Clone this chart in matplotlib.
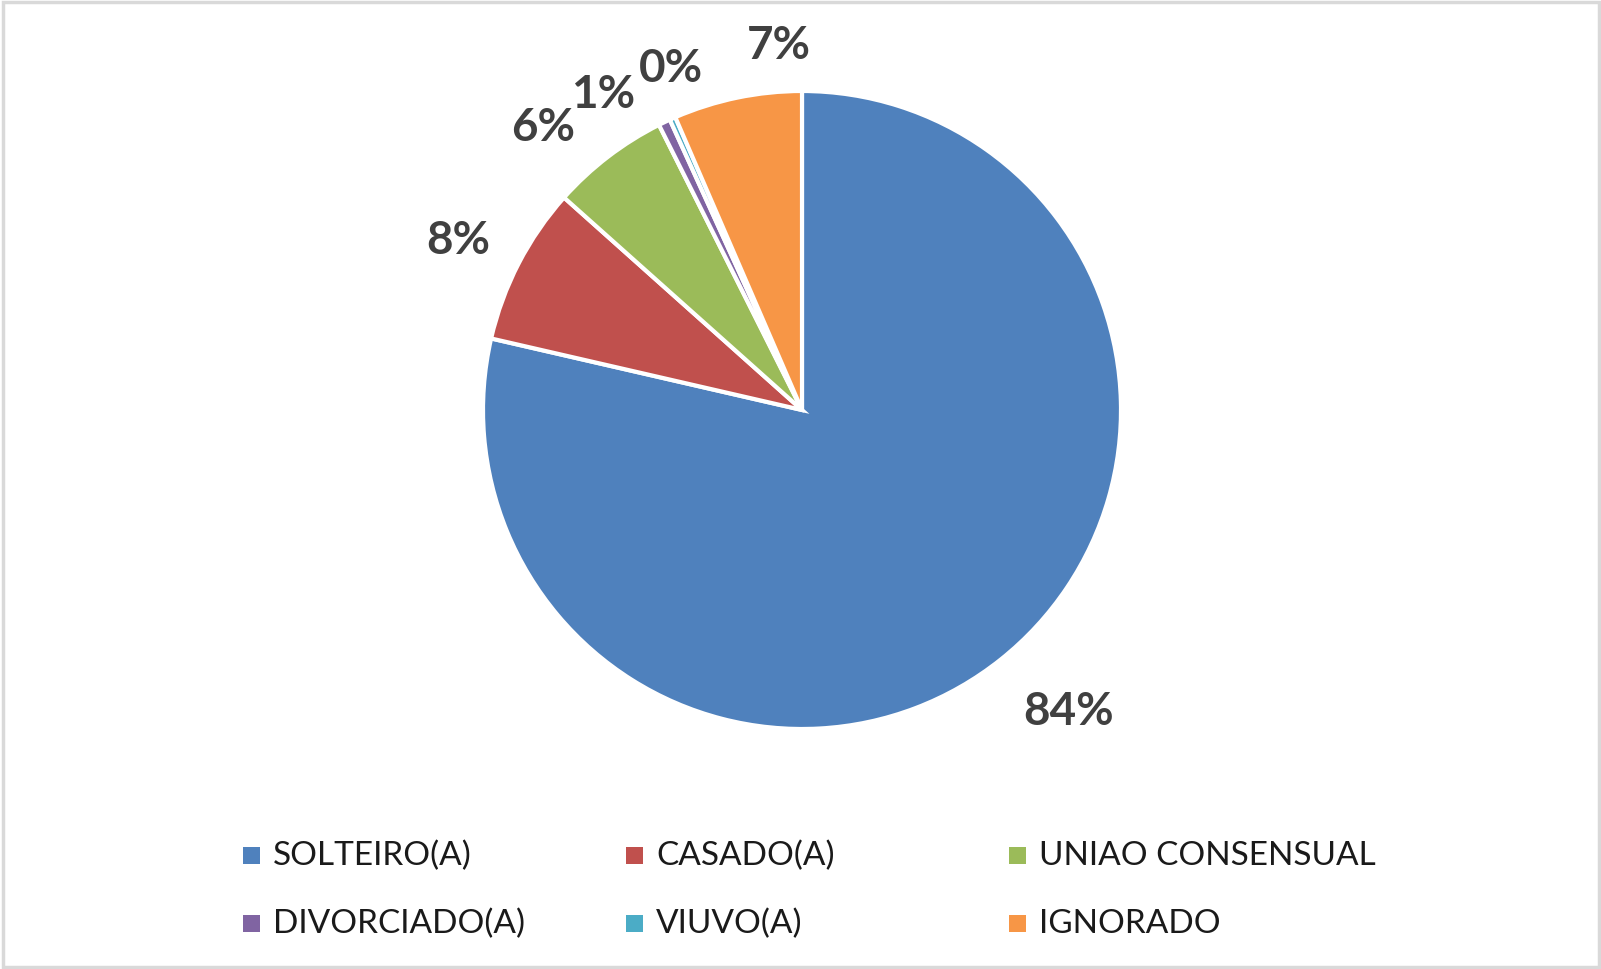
import numpy as np
import matplotlib
matplotlib.use('Agg')
import matplotlib.pyplot as plt
from matplotlib.patches import Rectangle

# estado civil - pie values (slice angles)
categories = ['SOLTEIRO(A)', 'CASADO(A)', 'UNIAO CONSENSUAL',
              'DIVORCIADO(A)', 'VIUVO(A)', 'IGNORADO']
values = [78.6, 8.0, 6.0, 0.6, 0.3, 6.5]
pct_labels = ['84%', '8%', '6%', '1%', '0%', '7%']
colors = ['#4f81bd', '#c0504d', '#9bbb59', '#8064a2', '#4bacc6', '#f79646']

W, H = 1601, 970
fig = plt.figure(figsize=(W / 100, H / 100), dpi=100)
ax = fig.add_axes([0, 0, 1, 1])

cx, cy, r = 802, H - 411, 319
wedges, _ = ax.pie(values, colors=colors, startangle=90, counterclock=False,
                   center=(cx, cy), radius=r, frame=True,
                   wedgeprops=dict(edgecolor='white', linewidth=3))
ax.set_xlim(0, W)
ax.set_ylim(0, H)
ax.set_aspect('equal')
ax.axis('off')

# label nudges (degrees, distance) like excel's best fit
nudge = [(3, 402), (1, 384), (5, 383), (6.6, 373), (-3, 366), (-8.1, 366)]
for w, txt, (da, dist) in zip(wedges, pct_labels, nudge):
    mid = np.deg2rad((w.theta1 + w.theta2) / 2 + da)
    ax.text(cx + dist * np.cos(mid), cy + dist * np.sin(mid), txt,
            ha='center', va='center', fontsize=33, fontweight='bold',
            color='#404040', family='Lato')

# legend, 3 columns x 2 rows
for i, (name, c) in enumerate(zip(categories, colors)):
    x0 = 243 + 383 * (i % 3)
    y0 = H - 856 - 68 * (i // 3)
    ax.add_patch(Rectangle((x0, y0 - 9), 17, 17, facecolor=c, edgecolor='none'))
    ax.text(x0 + 30, y0, name, ha='left', va='center', fontsize=24,
            color='#1a1a1a', family='Lato')

# light chart border
ax.add_patch(Rectangle((3, 2), W - 5, H - 5, fill=False, edgecolor='#d9d9d9', linewidth=2.5))

fig.savefig('out.png', dpi=100)
